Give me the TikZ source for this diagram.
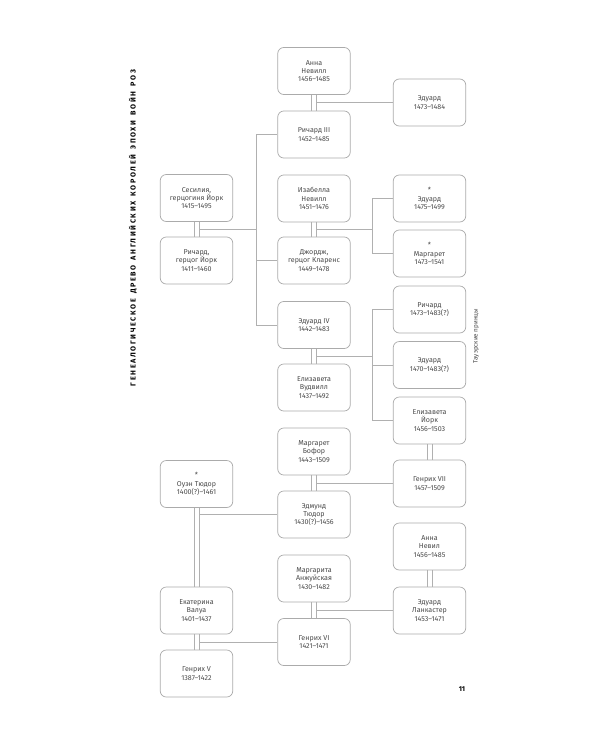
\documentclass[tikz,border=0pt]{standalone}
\usepackage{fontspec}
\setmainfont{Fira Sans}
\newfontfamily\titlefont[LetterSpace=23,WordSpace=1.5]{Fira Sans}
\begin{document}
\begin{tikzpicture}[x=1pt,y=-1pt,
  person/.style={draw=boxgray, line width=0.7pt, rounded corners=6pt, minimum width=72.5pt, minimum height=47pt,
    inner sep=0pt, align=center, text=textgray, font=\fontsize{7.1}{8.3}\selectfont},
  link/.style={draw=linegray, line width=0.7pt},
]
\definecolor{boxgray}{HTML}{ABABAB}
\definecolor{linegray}{HTML}{B0B0B0}
\definecolor{textgray}{HTML}{4A4A4A}
\useasboundingbox[fill=white] (0,0) rectangle (600,750);

% title
\node[rotate=90, font=\titlefont\bfseries\fontsize{7.2}{8}\selectfont, text=black] (title) at (133,228)
  {ГЕНЕАЛОГИЧЕСКОЕ ДРЕВО АНГЛИЙСКИХ КОРОЛЕЙ ЭПОХИ ВОЙН РОЗ};
\node[rotate=90, font=\fontsize{6.3}{7}\selectfont, text=textgray] (princes) at (476,336) {Тауэрские принцы};
\node[font=\bfseries\fontsize{7}{8}\selectfont, text=black] (pagenum) at (462,689) {11};

% column A
\node[person] (cec) at (196.5,198) {Сесилия,\\герцогиня Йорк\\1415–1495};
\node[person] (ry)  at (196.5,260.5) {Ричард,\\герцог Йорк\\1411–1460};
\node[person] (ot)  at (196.5,484) {*\\Оуэн Тюдор\\1400(?)–1461};
\node[person] (kv)  at (196.5,610.5) {Екатерина\\Валуа\\1401–1437};
\node[person] (h5)  at (196.5,673.5) {Генрих V\\1387–1422};

% column B
\node[person] (an1) at (314,71) {Анна\\Невилл\\1456–1485};
\node[person] (r3)  at (314,134.5) {Ричард III\\1452–1485};
\node[person] (isn) at (314,198.5) {Изабелла\\Невилл\\1451–1476};
\node[person] (gc)  at (314,260.5) {Джордж,\\герцог Кларенс\\1449–1478};
\node[person] (e4)  at (314,325) {Эдуард IV\\1442–1483};
\node[person] (ew)  at (314,387.5) {Елизавета\\Вудвилл\\1437–1492};
\node[person] (mb)  at (314,451.5) {Маргарет\\Бофор\\1443–1509};
\node[person] (et)  at (314,514.5) {Эдмунд\\Тюдор\\1430(?)–1456};
\node[person] (ma)  at (314,578.5) {Маргарита\\Анжуйская\\1430–1482};
\node[person] (h6)  at (314,642) {Генрих VI\\1421–1471};

% column C
\node[person] (ed1) at (429.5,102.5) {Эдуард\\1473–1484};
\node[person] (ed2) at (429.5,198.5) {*\\Эдуард\\1475–1499};
\node[person] (mg)  at (429.5,253.5) {*\\Маргарет\\1473–1541};
\node[person] (ri)  at (429.5,309.5) {Ричард\\1473–1483(?)};
\node[person] (ed3) at (429.5,365) {Эдуард\\1470–1483(?)};
\node[person] (ey)  at (429.5,420.5) {Елизавета\\Йорк\\1456–1503};
\node[person] (h7)  at (429.5,483.5) {Генрих VII\\1457–1509};
\node[person] (an2) at (429.5,546.5) {Анна\\Невил\\1456–1485};
\node[person] (el)  at (429.5,610.5) {Эдуард\\Ланкастер\\1453–1471};

% marriages (double lines)
\foreach \a/\b in {cec/ry, ot/kv, kv/h5, an1/r3, isn/gc, e4/ew, mb/et, ma/h6, ey/h7, an2/el}{
  \draw[link] ([xshift=-2.5pt]\a.south) -- ([xshift=-2.5pt]\b.north);
  \draw[link] ([xshift=2.5pt]\a.south) -- ([xshift=2.5pt]\b.north);
}

% named points on the right line of each marriage
\coordinate (mcec) at ([xshift=2.5pt]cec.south);
\coordinate (mot)  at ([xshift=2.5pt]ot.south);
\coordinate (mkv)  at ([xshift=2.5pt]kv.south);
\coordinate (man1) at ([xshift=2.5pt]an1.south);
\coordinate (misn) at ([xshift=2.5pt]isn.south);
\coordinate (me4)  at ([xshift=2.5pt]e4.south);
\coordinate (mmb)  at ([xshift=2.5pt]mb.south);
\coordinate (mma)  at ([xshift=2.5pt]ma.south);

% York trunk
\coordinate (trunk) at (256,229);
\draw[link] (mcec |- trunk) -- (trunk);
\draw[link] (trunk |- r3.west) -- (trunk |- e4.west);
\draw[link] (trunk |- r3.west) -- (r3.west);
\draw[link] (trunk |- gc.west) -- (gc.west);
\draw[link] (trunk |- e4.west) -- (e4.west);

% Anna Neville + Richard III
\draw[link] (man1 |- ed1.west) -- (ed1.west);

% Isabella + George
\coordinate (b1) at (372,229.5);
\draw[link] (misn |- b1) -- (b1);
\draw[link] (b1 |- ed2.west) -- (b1 |- mg.west);
\draw[link] (b1 |- ed2.west) -- (ed2.west);
\draw[link] (b1 |- mg.west) -- (mg.west);

% Edward IV + Elizabeth Woodville
\coordinate (b2) at (372,356);
\draw[link] (me4 |- b2) -- (b2);
\draw[link] (b2 |- ri.west) -- (b2 |- ey.west);
\draw[link] (b2 |- ri.west) -- (ri.west);
\draw[link] (b2 |- ed3.west) -- (ed3.west);
\draw[link] (b2 |- ey.west) -- (ey.west);

% Margaret Beaufort + Edmund Tudor
\draw[link] (mmb |- h7.west) -- (h7.west);

% Owen Tudor + Catherine
\draw[link] (mot |- et.west) -- (et.west);

% Catherine + Henry V
\draw[link] (mkv |- h6.west) -- (h6.west);

% Margaret of Anjou + Henry VI
\draw[link] (mma |- el.west) -- (el.west);
\end{tikzpicture}
\end{document}
